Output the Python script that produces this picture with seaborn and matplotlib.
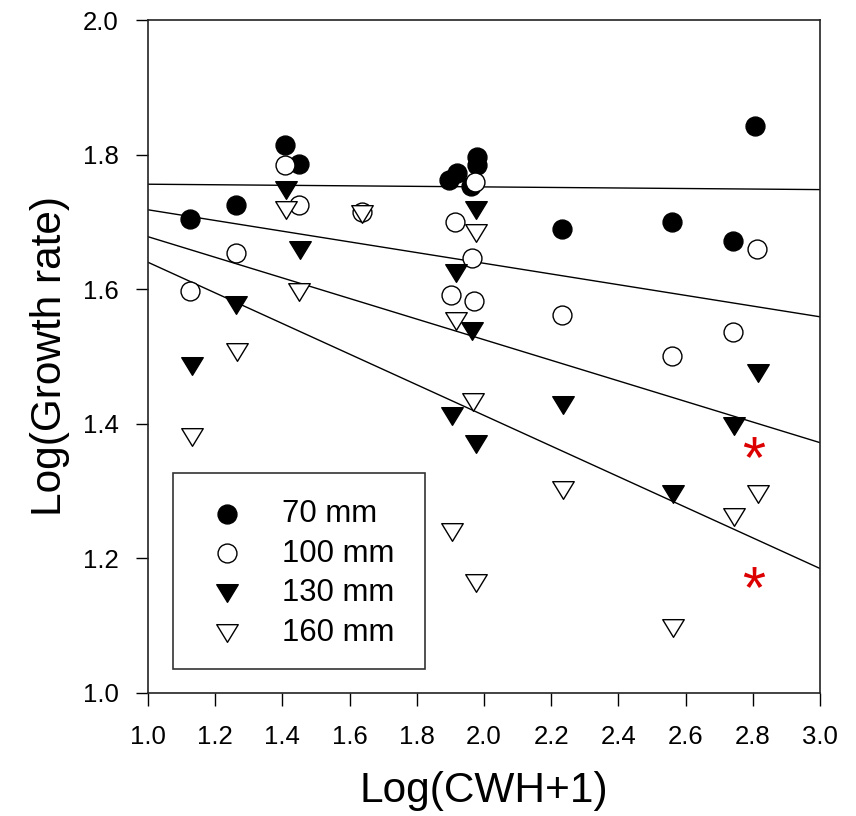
import numpy as np
import pandas as pd
import matplotlib
matplotlib.use("Agg")
import matplotlib.pyplot as plt
from matplotlib.path import Path
from matplotlib.patches import Rectangle
from matplotlib.textpath import TextPath
from matplotlib.font_manager import FontProperties
import seaborn as sns

# ---------------- data ----------------
x_70 = [1.125, 1.261, 1.409, 1.448, 1.896, 1.921, 1.961, 1.978, 1.978, 2.231, 2.559, 2.740, 2.808]
y_70 = [1.704, 1.725, 1.815, 1.786, 1.763, 1.772, 1.753, 1.797, 1.785, 1.689, 1.700, 1.672, 1.843]

x_100 = [1.125, 1.261, 1.409, 1.448, 1.638, 1.914, 1.963, 1.901, 1.970, 1.973, 2.231, 2.559, 2.740, 2.812]
y_100 = [1.598, 1.654, 1.785, 1.725, 1.715, 1.700, 1.647, 1.591, 1.582, 1.760, 1.561, 1.501, 1.537, 1.660]

x_130 = [1.130, 1.263, 1.411, 1.451, 1.906, 1.916, 1.964, 1.975, 1.977, 2.236, 2.563, 2.744, 2.816]
y_130 = [1.486, 1.577, 1.748, 1.658, 1.412, 1.624, 1.538, 1.370, 1.718, 1.428, 1.295, 1.396, 1.475]

x_160 = [1.130, 1.265, 1.411, 1.450, 1.638, 1.904, 1.916, 1.966, 1.975, 1.977, 2.236, 2.563, 2.744, 2.816]
y_160 = [1.380, 1.506, 1.717, 1.596, 1.712, 1.239, 1.553, 1.432, 1.164, 1.683, 1.301, 1.096, 1.261, 1.295]

fit_x = [1.0, 3.0]
fit_70 = [1.756, 1.748]
fit_100 = [1.718, 1.559]
fit_130 = [1.678, 1.372]
fit_160 = [1.640, 1.185]

star_x = [2.805, 2.805]
star_y = [1.366, 1.172]

labels = ["70 mm", "100 mm", "130 mm", "160 mm"]
x_ticks = [1.0, 1.2, 1.4, 1.6, 1.8, 2.0, 2.2, 2.4, 2.6, 2.8, 3.0]
y_ticks = [1.0, 1.2, 1.4, 1.6, 1.8, 2.0]

# ---------------- style ----------------
sns.set_style("white")
plt.rcParams["font.family"] = ["Liberation Sans", "DejaVu Sans"]
plt.rcParams["text.color"] = "black"

fig = plt.figure(figsize=(8.56, 8.16), dpi=100)
ax = fig.add_axes([148 / 856, 1 - 693 / 816, 672 / 856, 673 / 816])

tri = Path([(-1, 0.82), (1, 0.82), (0, -0.82), (-1, 0.82)],
           [Path.MOVETO, Path.LINETO, Path.LINETO, Path.CLOSEPOLY])

# regression lines
for fy in [fit_70, fit_100, fit_130, fit_160]:
    sns.lineplot(x=fit_x, y=fy, ax=ax, color="black", linewidth=1.0, zorder=2)

series = [
    (x_70, y_70, "o", "black", 185),
    (x_100, y_100, "o", "white", 185),
    (x_130, y_130, tri, "black", 240),
    (x_160, y_160, tri, "white", 240),
]
for (xs, ys, mk, fc, s), lab in zip(series, labels):
    sns.scatterplot(x=xs, y=ys, ax=ax, marker=mk, s=s, facecolor=fc,
                    edgecolor="black", linewidth=1.0, label=lab, zorder=3)

# red asterisks
tp = TextPath((0, 0), "*", size=10, prop=FontProperties(family="Liberation Sans"))
v = tp.vertices.copy()
codes = tp.codes.copy()
real = codes != Path.CLOSEPOLY
cx = (v[real, 0].min() + v[real, 0].max()) / 2
cy = (v[real, 1].min() + v[real, 1].max()) / 2
v[~real] = (cx, cy)
v[:, 0] -= cx
v[:, 1] -= cy
star = Path(v, codes)
sns.scatterplot(x=star_x, y=star_y, ax=ax, marker=star, s=235, color="#dd0000",
                linewidth=0, zorder=4)

ax.set_xlim(1.0, 3.0)
ax.set_ylim(1.0, 2.0)
ax.set_xticks(x_ticks)
ax.set_yticks(y_ticks)
ax.set_xticklabels([f"{t:.1f}" for t in x_ticks])
ax.set_yticklabels([f"{t:.1f}" for t in y_ticks])
ax.tick_params(axis="both", direction="out", length=9, width=1.0, color="black",
               labelsize=18.5, labelcolor="black", left=True, bottom=True)
ax.tick_params(axis="x", pad=14)
ax.tick_params(axis="y", pad=12)
for sp in ax.spines.values():
    sp.set_visible(True)
    sp.set_color("#222222")
    sp.set_linewidth(1.2)

ax.set_xlabel("Log(CWH+1)", fontsize=30.5, labelpad=16, color="black")
ax.set_ylabel("Log(Growth rate)", fontsize=30.5, labelpad=9, color="black")

# legend box
ax.add_patch(Rectangle((25 / 672, 24 / 673), 252 / 672, 196 / 673,
                       transform=ax.transAxes, facecolor="white",
                       edgecolor="#333333", linewidth=1.2, zorder=5))
handles, labs = ax.get_legend_handles_labels()
leg = ax.legend(handles[:4], labs[:4], loc="upper left",
                bbox_to_anchor=(48 / 672, (693 - 499) / 673), fontsize=22.4,
                frameon=False, borderpad=0, handlelength=2.0,
                handletextpad=0.77, labelspacing=0.31,
                borderaxespad=0, scatterpoints=1)
leg.set_zorder(6)
for t in leg.get_texts():
    t.set_color("black")

fig.savefig("out.png", dpi=100)
